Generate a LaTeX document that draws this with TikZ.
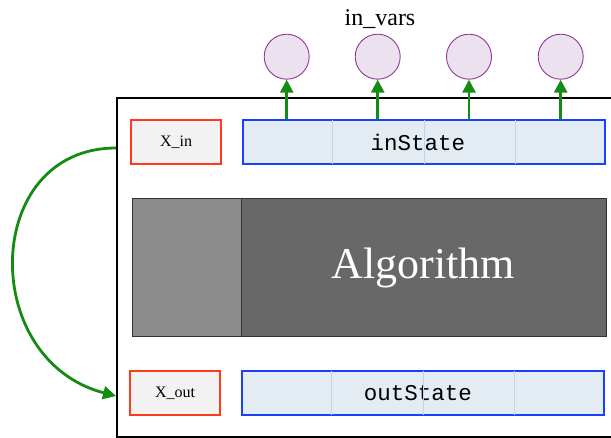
\documentclass[tikz,border=0pt]{standalone}
\usepackage{fontspec}
\setmainfont{Liberation Serif}
\setmonofont{Liberation Mono}
\usetikzlibrary{arrows.meta,calc}

\definecolor{portred}{HTML}{FF3A1A}
\definecolor{portfill}{HTML}{F2F2F2}
\definecolor{stateblue}{HTML}{1A3FFF}
\definecolor{statefill}{HTML}{E3EBF3}
\definecolor{statediv}{HTML}{C2D4E6}
\definecolor{varfill}{HTML}{EBE1EF}
\definecolor{varline}{HTML}{8E3A92}
\definecolor{flowgreen}{HTML}{148C14}
\definecolor{algolight}{HTML}{8C8C8C}
\definecolor{algodark}{HTML}{686868}

\tikzset{
  port/.style={draw=portred, fill=portfill, line width=2.6pt,
    minimum width=90pt, minimum height=44pt, inner sep=0pt,
    font=\fontsize{16}{19}\selectfont},
  statebox/.style={draw=stateblue, fill=statefill, line width=2.6pt,
    minimum width=362pt, minimum height=44pt, inner sep=0pt,
    font=\ttfamily\fontsize{22.5}{26}\selectfont},
  divider/.style={draw=statediv, line width=0.8pt},
  var/.style={circle, draw=varline, fill=varfill, line width=0.9pt,
    minimum size=45pt, inner sep=0pt},
  flow/.style={draw=flowgreen, line width=2.8pt,
    -{Triangle[length=13pt,width=13pt]}},
  algopart/.style={draw=black!80, line width=0.7pt, minimum height=138pt,
    inner sep=0pt},
}

\begin{document}
\begin{tikzpicture}[x=1pt,y=-1pt]
  \useasboundingbox (0,0) rectangle (611,437);

  % enclosing frame (continues past the right edge)
  \node[draw=black, line width=2.4pt, minimum width=530pt, minimum height=339pt,
        inner sep=0pt, anchor=north west] (frame) at (116,96.5) {};

  % input / output ports
  \node[port] (xin)  at (176,142) {X\_in};
  \node[port] (xout) at (175,393) {X\_out};

  % state vectors
  \node[statebox] (instate)  at (424,142) {inState\kern12pt};
  \node[statebox] (outstate) at (423,393) {outState\kern10pt};
  \foreach \s in {instate,outstate}
    \foreach \f in {0.25,0.5,0.75}
      \draw[divider, shorten <=1.3pt, shorten >=1.3pt]
        ($(\s.north west)!\f!(\s.north east)$) --
        ($(\s.south west)!\f!(\s.south east)$);

  % algorithm block
  \node[algopart, fill=algolight, minimum width=109pt] (algoleft) at (186.5,267.5) {};
  \node[algopart, fill=algodark, minimum width=365pt, text=white,
        font=\fontsize{44}{52}\selectfont] (algo) at (423.5,267.5) {Algorithm};

  % input variables
  \node[font=\fontsize{24}{28}\selectfont, anchor=base] (invars) at (380,25) {in\_vars};
  \foreach \i/\x in {1/286.7,2/377.7,3/469,4/560.7} {
    \node[var] (v\i) at (\x,56.7) {};
    \draw[flow] (v\i |- instate.north) -- (v\i.south);
  }

  % feedback loop from the input side round to X_out
  \coordinate (loopstart) at (frame.west |- 0,148);
  \coordinate (loopend) at (frame.west |- 0,396);
  \draw[flow] (loopstart) .. controls (-18,148) and (-22,360) .. (loopend);
\end{tikzpicture}
\end{document}
